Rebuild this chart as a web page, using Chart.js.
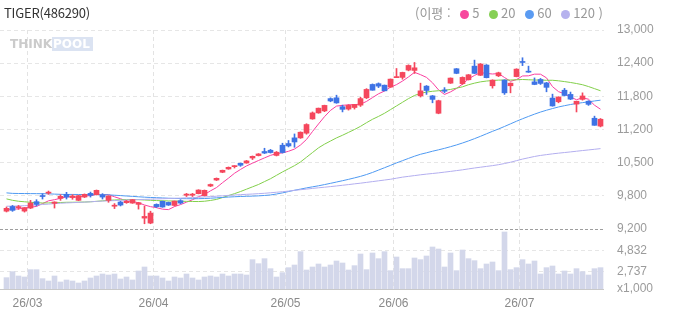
<!DOCTYPE html>
<html lang="ko">
<head>
<meta charset="UTF-8">
<title>TIGER(486290)</title>
<style>
  body { margin: 0; background: #fff; }
  #wrap { position: relative; width: 673px; height: 315px; overflow: hidden; font-family: "Noto Sans CJK KR", "Noto Sans", sans-serif; }
  #chart { position: absolute; left: 0; top: 0; }
  #title { position: absolute; left: 4px; top: 3px; font-size: 13px; color: #333; letter-spacing: -0.2px; }
  #legend { position: absolute; left: 415px; top: 3px; font-size: 13px; color: #999; white-space: nowrap; }
  #legend .dot { display: inline-block; width: 9px; height: 9px; border-radius: 50%; margin: 0 3px 0 6px; vertical-align: -0.5px; }
  #logo { position: absolute; left: 10px; top: 37px; font-family: "DejaVu Sans", sans-serif; font-weight: bold; font-size: 12px; line-height: 14px; }
  #logo .think { color: #cbcbcb; }
  #logo .pool { color: #fff; background: #dbe3f2; padding: 0 3px 0 1px; }
</style>
</head>
<body>
<div id="wrap">
  <canvas id="chart" width="673" height="315"></canvas>
  <div id="title">TIGER(486290)</div>
  <div id="legend">(이평 : <span class="dot" style="background:#f7479d"></span>5 <span class="dot" style="background:#86d055"></span>20 <span class="dot" style="background:#5a9bf2"></span>60 <span class="dot" style="background:#b6b2ee"></span>120 )</div>
  <div id="logo"><span class="think">THINK</span><span class="pool">POOL</span></div>
</div>
<script src="https://cdn.jsdelivr.net/npm/chart.js"></script>
<script>
// trading days per month (yy/mm -> days)
const tradingDays = {
  '26/02': [24, 25, 26, 27],
  '26/03': [3, 4, 5, 6, 9, 10, 11, 12, 13, 16, 17, 18, 19, 20, 23, 24, 25, 26, 27, 30, 31],
  '26/04': [1, 2, 3, 6, 7, 8, 9, 10, 13, 14, 15, 16, 17, 20, 21, 22, 23, 24, 27, 28, 29, 30],
  '26/05': [4, 6, 7, 8, 11, 12, 13, 14, 15, 18, 19, 20, 21, 22, 26, 27, 28, 29],
  '26/06': [1, 2, 4, 5, 8, 9, 10, 11, 12, 15, 16, 17, 18, 19, 22, 23, 24, 25, 26, 29, 30],
  '26/07': [1, 2, 3, 6, 7, 8, 9, 10, 13, 14, 15, 16, 17, 20]
};
const monthLabels = ['26/03', '26/04', '26/05', '26/06', '26/07'];

const openP = [
  9540, 9630, 9608, 9542, 9600, 9722, 9830, 9885, 9690, 9785,
  9862, 9800, 9747, 9810, 9880, 9856, 9848, 9747, 9635, 9715,
  9703, 9695, 9670, 9408, 9313, 9670, 9728, 9708, 9650, 9741,
  9845, 9845, 9875, 9837, 10020, 10135, 10283, 10346, 10390, 10454,
  10460, 10556, 10602, 10680, 10704, 10605, 10800, 10832, 10940, 10940,
  11030, 11302, 11417, 11455, 11690, 11705, 11535, 11490, 11520, 11565,
  11705, 11960, 11975, 11946, 11910, 12090, 12095, 12234, 12228, 11742,
  11928, 11742, 11410, 11855, 11985, 12260, 11976, 12050, 12310, 12135,
  12330, 11935, 12125, 12043, 11935, 12110, 12395, 12210, 12010, 12055,
  11990, 11700, 11630, 11850, 11770, 11585, 11675, 11640, 11315, 11165
];
const highP = [
  9620, 9650, 9650, 9610, 9747, 9760, 9875, 9925, 9720, 9855,
  9900, 9855, 9845, 9870, 9905, 9945, 9875, 9835, 9685, 9730,
  9745, 9765, 9710, 9638, 9540, 9680, 9735, 9715, 9735, 9760,
  9880, 9880, 9950, 9945, 10060, 10175, 10325, 10385, 10410, 10460,
  10510, 10595, 10640, 10742, 10720, 10680, 10838, 10890, 11015, 11055,
  11210, 11435, 11510, 11565, 11705, 11755, 11565, 11575, 11580, 11715,
  11880, 11970, 11990, 11950, 12065, 12265, 12195, 12335, 12380, 11985,
  11940, 11750, 11660, 11900, 12085, 12265, 12105, 12150, 12425, 12360,
  12340, 12050, 12195, 12050, 11990, 12260, 12470, 12310, 12085, 12075,
  12000, 11775, 11725, 11885, 11815, 11640, 11800, 11650, 11355, 11310
];
const lowP = [
  9525, 9537, 9575, 9523, 9590, 9640, 9772, 9862, 9600, 9747,
  9772, 9767, 9740, 9800, 9810, 9850, 9772, 9710, 9590, 9640,
  9690, 9690, 9580, 9300, 9300, 9610, 9615, 9650, 9640, 9680,
  9820, 9820, 9870, 9830, 10010, 10125, 10275, 10340, 10365, 10397,
  10455, 10526, 10595, 10640, 10650, 10595, 10650, 10767, 10760, 10930,
  11010, 11295, 11410, 11440, 11630, 11600, 11436, 11470, 11490, 11540,
  11690, 11850, 11900, 11838, 11905, 12090, 12060, 12220, 12170, 11720,
  11770, 11610, 11400, 11800, 11980, 12165, 11960, 12045, 12165, 12130,
  12085, 11890, 12110, 11770, 11800, 12105, 12320, 12190, 11955, 11960,
  11820, 11545, 11610, 11740, 11670, 11435, 11660, 11560, 11180, 11150
];
const closeP = [
  9595, 9556, 9627, 9607, 9695, 9670, 9820, 9900, 9715, 9824,
  9810, 9830, 9837, 9862, 9843, 9938, 9810, 9830, 9655, 9657,
  9728, 9760, 9703, 9440, 9504, 9627, 9620, 9657, 9733, 9695,
  9866, 9866, 9944, 9938, 10050, 10168, 10321, 10378, 10410, 10417,
  10500, 10588, 10633, 10650, 10660, 10666, 10660, 10786, 10862, 11048,
  11195, 11417, 11507, 11560, 11645, 11608, 11485, 11560, 11578, 11690,
  11865, 11850, 11928, 11838, 12062, 12110, 12190, 12323, 12278, 11838,
  11845, 11675, 11650, 11830, 12082, 12172, 12095, 12145, 12172, 12350,
  12090, 12043, 12183, 11800, 11985, 12253, 12380, 12195, 11960, 11980,
  11905, 11550, 11720, 11750, 11680, 11640, 11740, 11580, 11180, 11296
];
// volume, x1,000 shares
const volume = [
  2134, 2741, 2302, 2201, 2943, 2943, 2032, 1796, 2302, 1695,
  1898, 1796, 1594, 1796, 2100, 2302, 2505, 2403, 2505, 1999,
  2201, 1898, 2808, 3213, 2302, 2302, 2100, 1796, 2201, 2100,
  2505, 2100, 1898, 2201, 2302, 2201, 2505, 2302, 2505, 2505,
  2403, 3955, 3550, 4056, 3044, 2201, 2640, 3146, 3415, 4765,
  2909, 3213, 3517, 3213, 3415, 3820, 3618, 2909, 3348, 4528,
  2943, 4630, 4056, 4765, 2842, 4225, 3044, 3044, 4124, 3955,
  4326, 5237, 5034, 3213, 4630, 2842, 4933, 4056, 3854, 3044,
  3517, 3719, 2842, 6755, 2943, 3146, 3955, 3517, 3820, 2505,
  3146, 3314, 2505, 2808, 2505, 3044, 2741, 2403, 3044, 3146
];
const ma5 = [
  9575, 9578, 9585, 9600, 9616, 9631, 9684, 9738, 9760, 9786,
  9814, 9816, 9803, 9833, 9836, 9862, 9858, 9857, 9815, 9778,
  9736, 9726, 9701, 9658, 9627, 9607, 9579, 9570, 9628, 9666,
  9712, 9759, 9817, 9858, 9929, 9991, 10084, 10171, 10264, 10337,
  10404, 10457, 10508, 10558, 10606, 10639, 10654, 10684, 10727, 10804,
  10910, 11062, 11206, 11345, 11465, 11547, 11561, 11572, 11575, 11584,
  11636, 11709, 11782, 11834, 11909, 11957, 12025, 12104, 12192, 12147,
  12095, 11992, 11857, 11769, 11818, 11883, 11967, 12066, 12133, 12187,
  12170, 12160, 12168, 12093, 12020, 12053, 12122, 12125, 12157, 12156,
  12086, 11919, 11823, 11781, 11721, 11668, 11706, 11678, 11564, 11487
];
const ma20 = [
  9775, 9748, 9730, 9720, 9710, 9702, 9697, 9698, 9702, 9706,
  9710, 9711, 9712, 9715, 9720, 9728, 9738, 9747, 9754, 9759,
  9762, 9762, 9760, 9754, 9748, 9743, 9739, 9736, 9733, 9730,
  9728, 9726, 9724, 9730, 9745, 9765, 9800, 9838, 9875, 9915,
  9960, 10005, 10050, 10105, 10160, 10225, 10290, 10350, 10410, 10480,
  10570, 10660, 10750, 10820, 10880, 10940, 10990, 11045, 11100, 11160,
  11230, 11295, 11350, 11410, 11480, 11550, 11620, 11690, 11750, 11790,
  11815, 11830, 11840, 11850, 11865, 11890, 11915, 11955, 11985, 12010,
  12025, 12035, 12043, 12045, 12045, 12050, 12055, 12050, 12045, 12043,
  12040, 12040, 12030, 12015, 11998, 11978, 11955, 11920, 11880, 11840
];
const ma60 = [
  9890, 9880, 9878, 9877, 9876, 9875, 9874, 9872, 9866, 9862,
  9860, 9860, 9859, 9858, 9857, 9856, 9855, 9852, 9845, 9838,
  9830, 9823, 9815, 9808, 9802, 9798, 9793, 9788, 9784, 9781,
  9779, 9778, 9779, 9782, 9788, 9795, 9803, 9810, 9816, 9821,
  9825, 9828, 9833, 9840, 9850, 9868, 9890, 9915, 9940, 9962,
  9985, 10005, 10025, 10048, 10072, 10097, 10122, 10148, 10176, 10205,
  10240, 10280, 10325, 10370, 10415, 10462, 10505, 10548, 10590, 10627,
  10655, 10685, 10712, 10740, 10772, 10805, 10842, 10882, 10925, 10970,
  11018, 11065, 11110, 11158, 11208, 11258, 11305, 11350, 11393, 11433,
  11468, 11500, 11530, 11555, 11577, 11597, 11613, 11628, 11645, 11660
];
const ma120 = [
  9635, 9637, 9640, 9645, 9650, 9660, 9668, 9675, 9685, 9692,
  9698, 9703, 9708, 9713, 9720, 9727, 9733, 9738, 9742, 9748,
  9754, 9758, 9762, 9766, 9770, 9774, 9778, 9782, 9786, 9790,
  9795, 9800, 9806, 9812, 9818, 9826, 9834, 9842, 9850, 9856,
  9862, 9868, 9875, 9882, 9892, 9902, 9912, 9924, 9938, 9950,
  9962, 9975, 9987, 9998, 10010, 10022, 10035, 10048, 10062, 10075,
  10090, 10105, 10120, 10135, 10150, 10170, 10190, 10205, 10220, 10235,
  10248, 10260, 10272, 10286, 10300, 10315, 10330, 10348, 10365, 10380,
  10395, 10410, 10428, 10450, 10475, 10505, 10535, 10560, 10585, 10605,
  10620, 10635, 10648, 10660, 10672, 10685, 10698, 10710, 10722, 10735
];

const priceTickLabels = ['9,200', '9,800', '10,500', '11,200', '11,800', '12,400', '13,000'];
const priceMin = 9200, priceMax = 13000;
const volTickValues = [986, 2737, 4832, 7058];
const volTickLabels = ['x1,000', '2,737', '4,832', ''];

const RED = '#f5475d';
const BLUE = '#3e73e5';
const TICK_FONT = { family: "'Liberation Sans', Arial, sans-serif", size: 12 };
const TICK_COLOR = '#9b9b9b';

// expand categories
const dates = [];
const monthStarts = [];
for (const m in tradingDays) {
  if (monthLabels.includes(m)) monthStarts.push(dates.length);
  tradingDays[m].forEach(d => dates.push(m + '/' + String(d).padStart(2, '0')));
}

const idx = dates.map((_, i) => i);
const candleColor = idx.map(i => closeP[i] >= openP[i] ? RED : BLUE);
const priceTickValues = priceTickLabels.map((_, k) => priceMin + k * (priceMax - priceMin) / (priceTickLabels.length - 1));

function lineSet(values, color) {
  return {
    type: 'line',
    data: values.map((v, i) => ({ x: i, y: v })),
    borderColor: color,
    borderWidth: 1,
    pointRadius: 0,
    yAxisID: 'y',
    order: 2
  };
}

// right side labels, left aligned like the original
const sideLabels = {
  id: 'sideLabels',
  afterDraw(chart) {
    const ctx = chart.ctx;
    ctx.save();
    ctx.font = '12px ' + TICK_FONT.family;
    ctx.fillStyle = TICK_COLOR;
    ctx.textAlign = 'left';
    ctx.textBaseline = 'middle';
    const x = chart.chartArea.right + 13;
    priceTickValues.forEach((v, k) => ctx.fillText(priceTickLabels[k], x, chart.scales.y.getPixelForValue(v)));
    volTickValues.forEach((v, k) => ctx.fillText(volTickLabels[k], x, chart.scales.vol.getPixelForValue(v)));
    ctx.restore();
  }
};

new Chart(document.getElementById('chart'), {
  type: 'bar',
  data: {
    datasets: [
      {
        data: idx.map(i => ({ x: i, y: [lowP[i], highP[i]] })),
        backgroundColor: candleColor,
        barThickness: 1,
        grouped: false,
        yAxisID: 'y',
        order: 1
      },
      {
        data: idx.map(i => ({ x: i, y: [openP[i], closeP[i]] })),
        backgroundColor: candleColor,
        barThickness: 5,
        minBarLength: 1,
        grouped: false,
        yAxisID: 'y',
        order: 0
      },
      lineSet(ma120, '#b3aeef'),
      lineSet(ma60, '#4f9af2'),
      lineSet(ma20, '#82cf4a'),
      lineSet(ma5, '#fa3fa0'),
      {
        data: idx.map(i => ({ x: i, y: volume[i] })),
        backgroundColor: '#d3d7ea',
        barThickness: 5,
        grouped: false,
        yAxisID: 'vol',
        order: 3
      }
    ]
  },
  options: {
    responsive: false,
    animation: false,
    events: [],
    layout: { padding: { top: 30, left: 0, right: 0, bottom: 0 } },
    plugins: { legend: { display: false }, tooltip: { enabled: false } },
    scales: {
      x: {
        type: 'linear',
        offset: false,
        min: -1.0833,
        max: 99.5833,
        afterBuildTicks: s => { s.ticks = monthStarts.map(i => ({ value: i - 0.5 })); },
        ticks: {
          callback: (v, k) => monthLabels[k],
          autoSkip: false,
          maxRotation: 0,
          color: '#8a8a8a',
          font: TICK_FONT,
          padding: 7
        },
        grid: { offset: false, color: '#e3e3e3', drawTicks: false },
        border: { display: false, dash: [4, 3] },
        afterFit: s => { s.height = 26; }
      },
      y: {
        type: 'linear',
        position: 'right',
        stack: 'main',
        stackWeight: 199,
        weight: 1,
        min: priceMin,
        max: priceMax,
        afterBuildTicks: s => { s.ticks = priceTickValues.map(v => ({ value: v })); },
        ticks: { display: false },
        grid: {
          color: c => c.index === 0 ? '#9e9e9e' : '#e6e6e6',
          drawTicks: false
        },
        border: { display: false, dash: c => c.index === 0 ? [3, 2] : [4, 3] },
        afterFit: s => { s.width = 69; }
      },
      vol: {
        type: 'linear',
        position: 'right',
        stack: 'main',
        stackWeight: 60,
        weight: 2,
        min: volTickValues[0],
        max: volTickValues[volTickValues.length - 1],
        afterBuildTicks: s => { s.ticks = volTickValues.map(v => ({ value: v })); },
        ticks: { display: false },
        grid: {
          color: c => c.index === 0 ? '#c9c9c9' : (c.index === volTickValues.length - 1 ? 'rgba(0,0,0,0)' : '#e6e6e6'),
          drawTicks: false
        },
        border: { display: false, dash: c => c.index === 0 ? [] : [4, 3] },
        afterFit: s => { s.width = 69; }
      }
    }
  },
  plugins: [sideLabels]
});
</script>
</body>
</html>
